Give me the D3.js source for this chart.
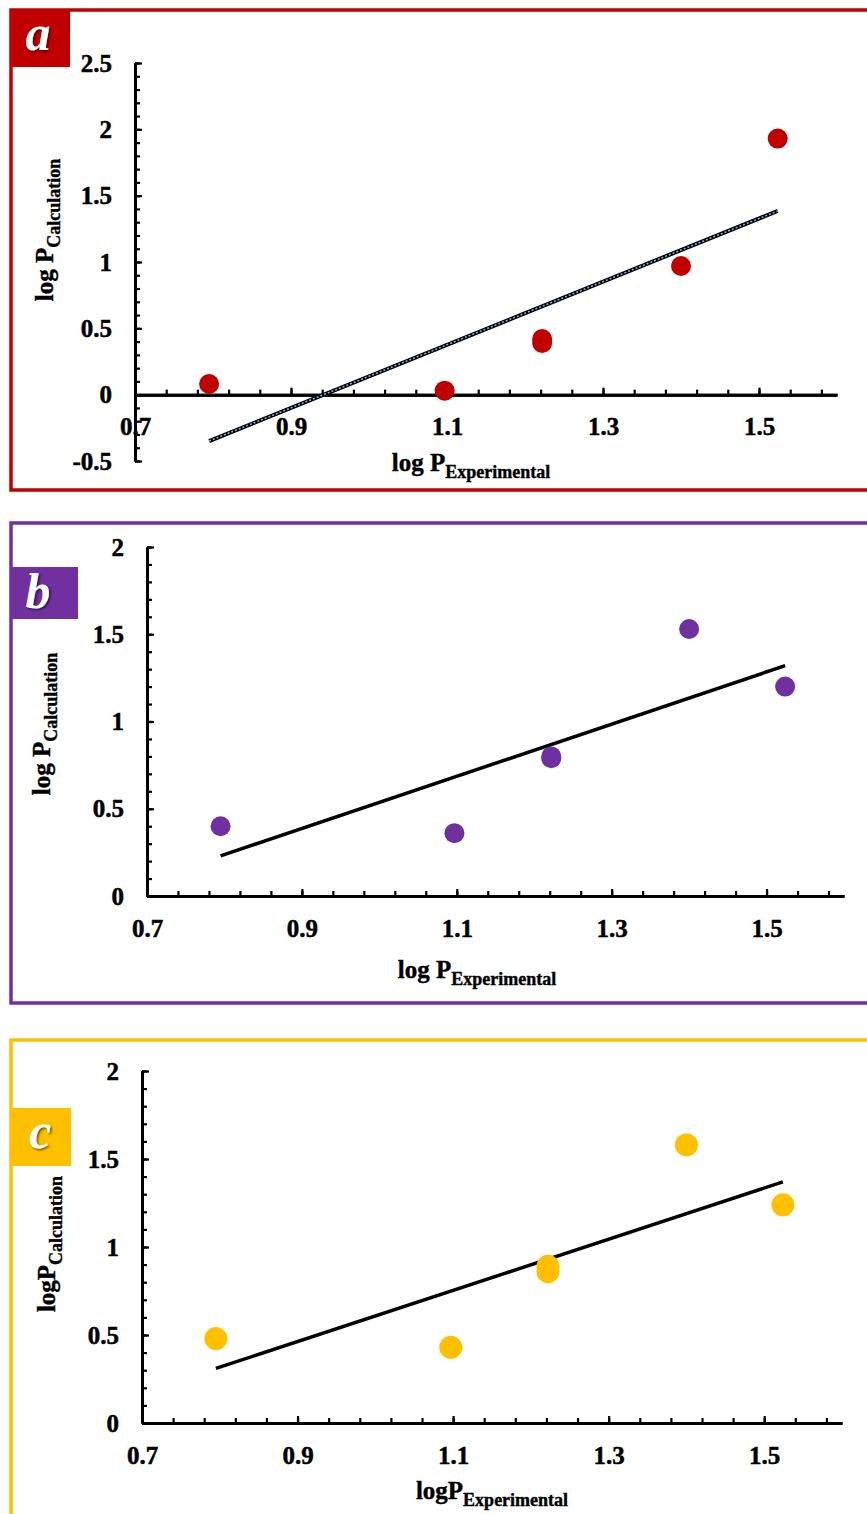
<!DOCTYPE html>
<html>
<head>
<meta charset="utf-8">
<script src="https://cdnjs.cloudflare.com/ajax/libs/d3/7.8.5/d3.min.js"></script>
<style>
  body { margin: 0; background: #fff; }
  svg text { font-family: "Liberation Serif", "Times New Roman", serif; font-weight: bold; }
</style>
</head>
<body>
<div id="chart"></div>
<script>
// DATA
var logPExperimental = [0.795, 1.097, 1.222, 1.222, 1.4, 1.524];
var calcA = [0.08, 0.03, 0.42, 0.39, 0.97, 1.93];
var calcB = [0.40, 0.36, 0.80, 0.79, 1.53, 1.20];
var calcC = [0.48, 0.43, 0.89, 0.86, 1.58, 1.24];

// trend line end points
var trendX = [0.795, 1.524];
var trendA = [-0.35, 1.385];
var trendB = [0.23, 1.32];
var trendC = [0.31, 1.37];

var xTicks = [0.7, 0.9, 1.1, 1.3, 1.5];
var yTicksA = [-0.5, 0, 0.5, 1, 1.5, 2, 2.5];
var yTicksBC = [0, 0.5, 1, 1.5, 2];

var panelLetters = ["a", "b", "c"];
var panelColors = ["#C00000", "#7030A0", "#FFC000"];
var yTitles = ["log P", "log P", "logP"];
var xTitles = ["log P", "log P", "logP"];

// VARIABLES
var width = 867;
var height = 1514;

var svg = d3.select("#chart")
  .append("svg")
  .attr("width", width)
  .attr("height", height);

// letter shadow
var defs = svg.append("defs");
defs.append("filter")
  .attr("id", "shadow")
  .attr("x", "-30%").attr("y", "-30%")
  .attr("width", "160%").attr("height", "160%")
  .append("feDropShadow")
  .attr("dx", 1.5).attr("dy", 1.5)
  .attr("stdDeviation", 1)
  .attr("flood-color", "#000")
  .attr("flood-opacity", 0.6);

// layout of the three panels
var panels = [
  { values: calcA, trend: trendA, yTicks: yTicksA, yDomain: [-0.5, 2.5],
    frameTop: 10, frameBottom: 490,
    box: [11, 10, 59, 57], letterX: 38, letterY: 50,
    xRange: [135, 837], yRange: [461, 63], r: 10, dotted: true,
    xTitle: [471, 471], yTitle: [53, 230] },
  { values: calcB, trend: trendB, yTicks: yTicksBC, yDomain: [0, 2],
    frameTop: 523, frameBottom: 1003,
    box: [11, 567, 67, 52], letterX: 38, letterY: 608,
    xRange: [147, 844], yRange: [896, 547], r: 10, dotted: false,
    xTitle: [477, 978], yTitle: [50, 724] },
  { values: calcC, trend: trendC, yTicks: yTicksBC, yDomain: [0, 2],
    frameTop: 1040, frameBottom: 1540,
    box: [11, 1108, 60, 58], letterX: 40, letterY: 1148,
    xRange: [142, 842], yRange: [1423, 1071], r: 11.5, dotted: false,
    xTitle: [492, 1499], yTitle: [55, 1244] }
];

var drawPanel = function(p, i) {
  var color = panelColors[i];
  var g = svg.append("g");

  // frame, open on the right side
  g.append("path")
    .attr("d", "M" + (width + 10) + "," + p.frameTop + "H11V" + p.frameBottom + "H" + (width + 10))
    .attr("fill", "none")
    .attr("stroke", color)
    .attr("stroke-width", 3.5);

  // letter box
  g.append("rect")
    .attr("x", p.box[0]).attr("y", p.box[1])
    .attr("width", p.box[2]).attr("height", p.box[3])
    .attr("fill", color);

  g.append("text")
    .attr("x", p.letterX).attr("y", p.letterY)
    .attr("text-anchor", "middle")
    .attr("fill", "#fff")
    .attr("font-size", 50)
    .attr("font-style", "italic")
    .attr("filter", "url(#shadow)")
    .text(panelLetters[i]);

  var xScale = d3.scaleLinear().domain([0.7, 1.6]).range(p.xRange);
  var yScale = d3.scaleLinear().domain(p.yDomain).range(p.yRange);

  var minorX = d3.range(0.74, 1.6, 0.04);
  var minorY = d3.range(p.yDomain[0], p.yDomain[1] + 0.001, 0.1);

  // Y axis
  var yG = g.append("g")
    .attr("transform", "translate(" + xScale(0.7) + ",0)");
  yG.append("g")
    .call(d3.axisLeft(yScale).tickValues(minorY).tickSize(-5).tickSizeOuter(0).tickFormat(""));
  yG.append("g")
    .call(d3.axisLeft(yScale).tickValues(p.yTicks).tickSize(-7).tickSizeOuter(0).tickPadding(23)
      .tickFormat(function(d) { return String(d); }));

  // X axis crossing at y = 0
  var xG = g.append("g")
    .attr("transform", "translate(0," + yScale(0) + ")");
  xG.append("g")
    .call(d3.axisBottom(xScale).tickValues(minorX).tickSize(-5).tickSizeOuter(0).tickFormat(""));
  xG.append("g")
    .call(d3.axisBottom(xScale).tickValues(xTicks).tickSize(-7).tickSizeOuter(0).tickPadding(23)
      .tickFormat(function(d) { return String(d); }));

  g.selectAll(".domain")
    .attr("stroke", "#000")
    .attr("stroke-width", 3);
  g.selectAll(".tick line")
    .attr("stroke", "#000")
    .attr("stroke-width", 2.2);
  g.selectAll(".tick text")
    .attr("font-size", 25)
    .attr("fill", "#000")
    .attr("stroke", "#000")
    .attr("stroke-width", 0.5)
    .attr("font-family", "Liberation Serif, Times New Roman, serif");

  // trend line
  var line = d3.line()
    .x(function(d) { return xScale(d[0]); })
    .y(function(d) { return yScale(d[1]); });
  var trendPts = trendX.map(function(x, k) { return [x, p.trend[k]]; });

  g.append("path")
    .datum(trendPts)
    .attr("d", line)
    .attr("stroke", "#000")
    .attr("stroke-width", p.dotted ? 4 : 3.5)
    .attr("fill", "none");
  if (p.dotted) {
    g.append("path")
      .datum(trendPts)
      .attr("d", line)
      .attr("stroke", "#6FB3E8")
      .attr("stroke-width", 1.6)
      .attr("stroke-dasharray", "2,2")
      .attr("fill", "none");
  }

  // points
  g.selectAll("circle")
    .data(p.values)
    .enter()
    .append("circle")
    .attr("cx", function(d, k) { return xScale(logPExperimental[k]); })
    .attr("cy", function(d) { return yScale(d); })
    .attr("r", p.r)
    .attr("fill", color);

  // axis titles
  var xt = g.append("text")
    .attr("x", p.xTitle[0]).attr("y", p.xTitle[1])
    .attr("text-anchor", "middle")
    .attr("stroke", "#000").attr("stroke-width", 0.4)
    .attr("font-size", 25);
  xt.append("tspan").text(xTitles[i]);
  xt.append("tspan").attr("font-size", 18).attr("dy", 7).text("Experimental");

  var yt = g.append("text")
    .attr("transform", "translate(" + p.yTitle[0] + "," + p.yTitle[1] + ") rotate(-90)")
    .attr("text-anchor", "middle")
    .attr("stroke", "#000").attr("stroke-width", 0.4)
    .attr("font-size", 25);
  yt.append("tspan").text(yTitles[i]);
  yt.append("tspan").attr("font-size", 18).attr("dy", 7).text("Calculation");
};

panels.forEach(drawPanel);
</script>
</body>
</html>
